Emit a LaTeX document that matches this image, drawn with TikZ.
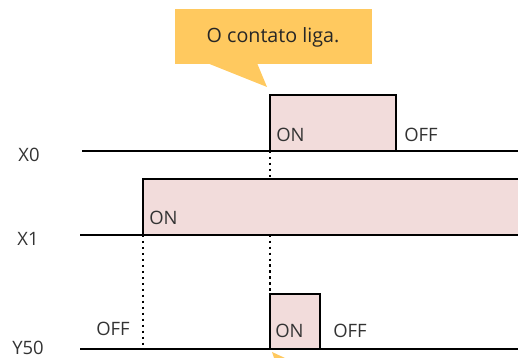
\documentclass[tikz,border=0pt]{standalone}
\usepackage{xcolor}
\usepackage{fontspec}
\setmainfont{Open Sans}
\usepackage{tikz}
\usetikzlibrary{positioning}

\definecolor{pulsefill}{HTML}{F2DCDB}
\definecolor{notefill}{HTML}{FFC95F}

\tikzset{
  sig/.style={line width=1.4pt},
  pulse/.style={draw=black, fill=pulsefill, line width=1.5pt},
  lbl/.style={font=\fontsize{10.5}{12}\selectfont, text=black!80, inner sep=0pt},
  guide/.style={dotted, line width=1.4pt}
}

\begin{document}
\begin{tikzpicture}[x=0.02cm, y=-0.02cm]
    \useasboundingbox (0,0) rectangle (518,358);

    % signal names
    \node[lbl] (nX0) at (29,155) {X0};
    \node[lbl] (nX1) at (28,239) {X1};
    \node[lbl] (nY50) at (28,348) {Y50};

    % edge points used by the guides
    \coordinate (x0on) at (270,151);
    \coordinate (x1on) at (143,235);
    \coordinate (y50top) at (270,294);
    \coordinate (y50base) at (143,349);

    % guides (drawn first, the X1 pulse hides part of them)
    \draw[guide] (x0on) -- (y50top);
    \draw[guide] (x1on) -- (y50base);

    % X0
    \draw[sig] (82,151) -- (518,151);
    \draw[pulse] (270,151) rectangle (396,95);
    \node[lbl, anchor=west] (x0a) at (276,135) {ON};
    \node[lbl, anchor=west] (x0b) at (404,135) {OFF};

    % X1
    \draw[sig] (80,235) -- (518,235);
    \draw[pulse] (518,235) -- (143,235) -- (143,179) -- (519,179);
    \node[lbl, anchor=west] (x1a) at (149,218) {ON};

    % Y50
    \draw[sig] (80,349) -- (518,349);
    \draw[pulse, line width=1.65pt] (270,349) rectangle (320,294);
    \node[lbl, anchor=west] (y50a) at (275,331) {ON};
    \node[lbl, anchor=west] (y50b) at (333,331) {OFF};
    \node[lbl, anchor=west] (y50c) at (96,329) {OFF};

    % note
    \fill[notefill] (175,9) rectangle (372,64);
    \fill[notefill] (207,63) -- (267,87) -- (257,63) -- cycle;
    \node[font=\fontsize{11.2}{13}\selectfont, text=black!85] (note) at (273,37) {O contato liga.};
    \fill[notefill] (272,352) -- (285,358) -- (274,358) -- cycle;
\end{tikzpicture}
\end{document}
